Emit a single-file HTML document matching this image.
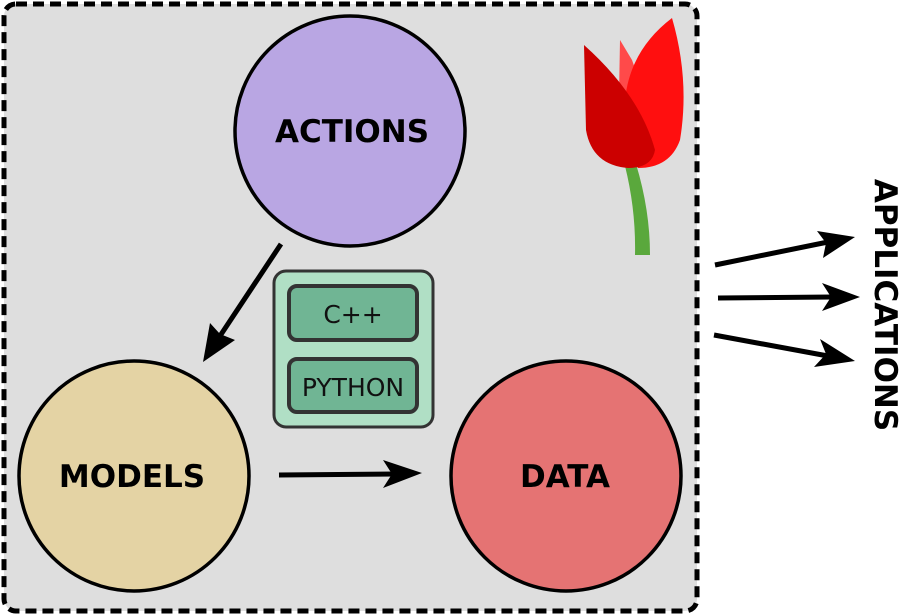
<!DOCTYPE html>
<html><head><style>html,body{margin:0;padding:0;background:#fff}svg{display:block}</style></head>
<body>
<svg width="899" height="616" viewBox="0 0 899 616" xmlns="http://www.w3.org/2000/svg" font-family="'DejaVu Sans','Liberation Sans',sans-serif">
<rect x="4" y="4" width="693" height="607" rx="12" fill="#dedede" stroke="#000" stroke-width="5" stroke-dasharray="11,6"/>
<!-- tulip -->
<path d="M625 166 Q636 210 635 255 L650 255 Q650 210 636 164 Z" fill="#5aa83c"/>
<path d="M620 40 L632 60 L660 140 L618 150 Z" fill="#ff4a4a"/>
<path d="M672 18 Q690 80 680 140 Q670 168 638 168 Q620 140 625 100 Q630 50 672 18 Z" fill="#ff0f0f"/>
<path d="M584 45 Q640 95 655 150 Q652 168 628 168 Q592 165 586 130 Z" fill="#cc0000"/>
<circle cx="350" cy="131" r="115" fill="#b9a6e3" stroke="#000" stroke-width="3.5"/>
<circle cx="134" cy="476" r="115" fill="#e4d3a4" stroke="#000" stroke-width="3.5"/>
<circle cx="566" cy="476" r="115" fill="#e57373" stroke="#000" stroke-width="3.5"/>
<g font-weight="bold" font-size="31" text-anchor="middle">
<text x="352" y="142">ACTIONS</text>
<text x="132" y="487">MODELS</text>
<text x="565" y="487">DATA</text>
</g>
<rect x="274" y="271" width="159" height="156" rx="12" fill="#b0dfc5" stroke="#333" stroke-width="3"/>
<rect x="289" y="286" width="128" height="54" rx="8" fill="#70b594" stroke="#333" stroke-width="4"/>
<rect x="289" y="359" width="128" height="53" rx="8" fill="#70b594" stroke="#333" stroke-width="4"/>
<g font-size="25" text-anchor="middle" fill="#111">
<text x="353" y="323">C++</text>
<text x="353" y="396">PYTHON</text>
</g>
<g stroke="#000" stroke-width="5" fill="none">
<line x1="281" y1="244" x2="218" y2="339"/>
<line x1="279" y1="475" x2="395" y2="474"/>
<line x1="715" y1="265" x2="828" y2="242"/>
<line x1="718" y1="298" x2="832" y2="297"/>
<line x1="714" y1="335" x2="828" y2="356"/>
</g>
<g fill="#000">
<polygon points="203,362 210,323 220,334 235,340"/>
<polygon points="422,473 383,460 392,474 383,488"/>
<polygon points="855,237 817,231 826,243 823,258"/>
<polygon points="860,297 822,283 831,297 822,311"/>
<polygon points="855,361 820,339 826,354 814,367"/>
</g>
<text x="0" y="0" font-weight="bold" font-size="31" text-anchor="middle" transform="translate(875,305) rotate(90)">APPLICATIONS</text>
</svg>
</body></html>
